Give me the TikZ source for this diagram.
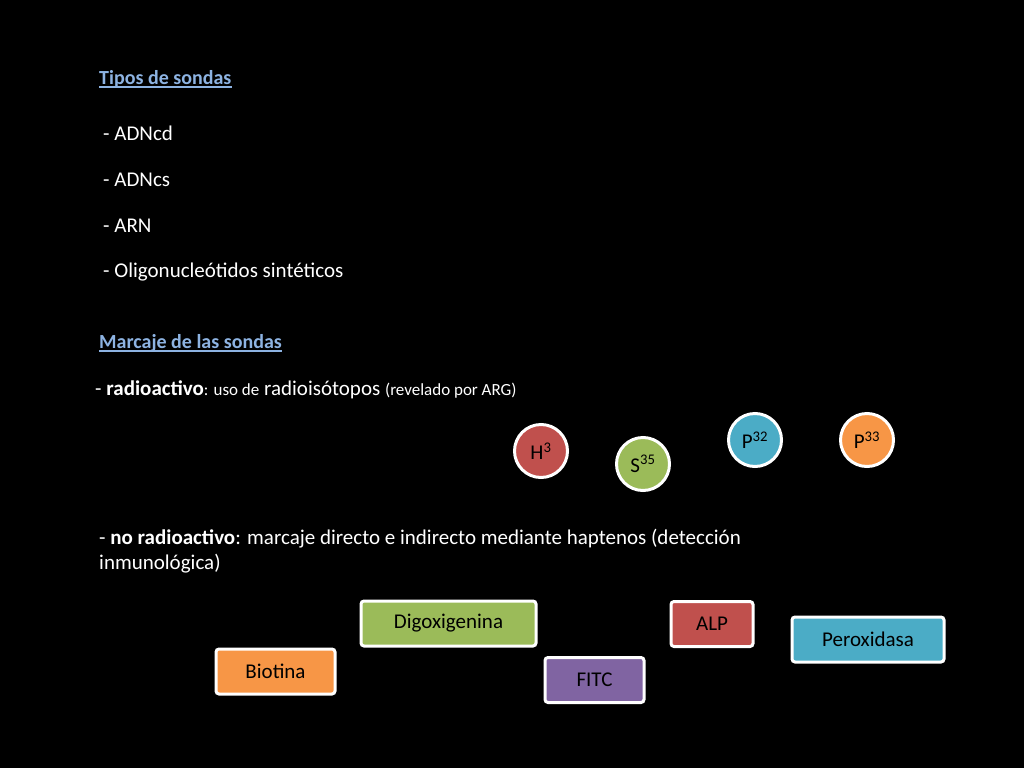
\documentclass[tikz,border=0pt]{standalone}
\usepackage{fontspec}
\setmainfont{Carlito}
\definecolor{hred}{HTML}{C0504D}
\definecolor{hgreen}{HTML}{9BBB59}
\definecolor{hblue}{HTML}{4BACC6}
\definecolor{horange}{HTML}{F79646}
\definecolor{hpurple}{HTML}{8064A2}
\definecolor{head}{HTML}{8DB3E2}
\begin{document}
\begin{tikzpicture}[x=1pt,y=-1pt,
  txt/.style={anchor=west,text=white,font=\fontsize{21}{25}\selectfont,inner sep=0},
  hd/.style={anchor=base west,text=head,font=\fontsize{20}{24}\selectfont\bfseries,inner sep=0},
  ul/.style={draw=head,line width=1.2pt},
  iso/.style={circle,draw=white,line width=3pt,minimum size=53pt,inner sep=0,text=black,font=\fontsize{21}{25}\selectfont},
  tag/.style={draw=white,line width=3pt,rounded corners=3pt,minimum height=45pt,inner sep=0,text=black,font=\fontsize{21}{25}\selectfont}]
\fill[black] (0,0) rectangle (1024,768);
\useasboundingbox (0,0) rectangle (1024,768);
\node[hd] (t1) at (99,84) {Tipos de sondas};
\draw[ul] ([yshift=-3pt]t1.base west) -- ([yshift=-3pt]t1.base east);
\node[txt] (l1) at (103,133) {- ADNcd};
\node[txt] (l2) at (103,180) {- ADNcs};
\node[txt] (l3) at (103,226) {- ARN};
\node[txt] (l4) at (103,272) {- Oligonucleótidos sintéticos};
\node[hd] (t2) at (99,348) {Marcaje de las sondas};
\draw[ul] ([yshift=-3pt]t2.base west) -- ([yshift=-3pt]t2.base east);
\node[txt] (r) at (95,390) {- \textbf{radioactivo}{\fontsize{17}{20}\selectfont: uso de} radioisótopos {\fontsize{17}{20}\selectfont(revelado por ARG)}};
\node[iso,fill=hred] (h3) at (541,451) {H\textsuperscript{3}};
\node[iso,fill=hgreen] (s35) at (643,464) {S\textsuperscript{35}};
\node[iso,fill=hblue] (p32) at (755,440) {P\textsuperscript{32}};
\node[iso,fill=horange] (p33) at (867,440) {P\textsuperscript{33}};
\node[txt,align=left,anchor=north west] (nr) at (99,529) {- \textbf{no radioactivo}: marcaje directo e indirecto mediante haptenos (detección\\inmunológica)};
\node[tag,fill=hgreen,minimum width=175pt] (dig) at (448.5,623.5) {Digoxigenina};
\node[tag,fill=hred,minimum width=82pt] (alp) at (712,624) {ALP};
\node[tag,fill=hblue,minimum width=152pt] (per) at (868,639.5) {Peroxidasa};
\node[tag,fill=horange,minimum width=119pt] (bio) at (275.5,671.5) {Biotina};
\node[tag,fill=hpurple,minimum width=99pt] (fitc) at (594.5,680) {FITC};
\end{tikzpicture}
\end{document}
